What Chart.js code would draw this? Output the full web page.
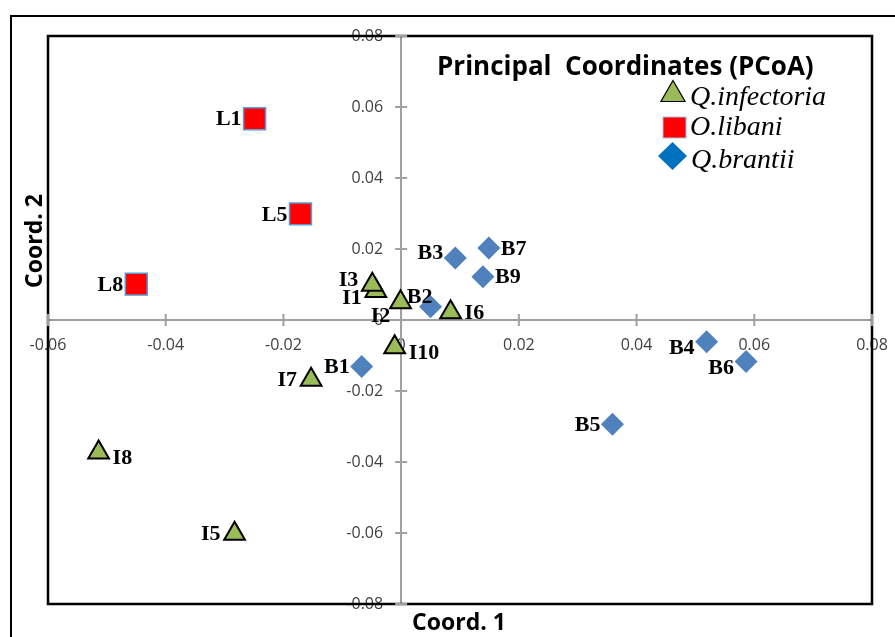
<!DOCTYPE html>
<html>
<head>
<meta charset="utf-8">
<script src="https://cdn.jsdelivr.net/npm/chart.js@4.4.1/dist/chart.umd.min.js"></script>
<style>
  html, body { margin: 0; padding: 0; background: #fff; }
  #wrap { width: 895px; height: 637px; }
</style>
</head>
<body>
<div id="wrap"><canvas id="pcoaChart"></canvas></div>
<script>
const seriesNames = ["Q.infectoria", "O.libani", "Q.brantii"];

const infectoriaIds = ["I1", "I2", "I3", "I5", "I6", "I7", "I8", "I10"];
const infectoriaX = [-0.0043, -0.0001, -0.0049, -0.0283, 0.0084, -0.0153, -0.0514, -0.0011];
const infectoriaY = [0.0082, 0.0050, 0.0099, -0.0602, 0.0022, -0.0168, -0.0373, -0.0077];
const infectoriaTag = ["left-low", "below-left", "left-high", "left", "right", "left", "right-low", "right-low"];

const libaniIds = ["L1", "L5", "L8"];
const libaniX = [-0.0249, -0.0171, -0.0450];
const libaniY = [0.0567, 0.0299, 0.0101];
const libaniTag = ["left", "left", "left"];

const brantiiIds = ["B1", "B2", "B3", "B4", "B5", "B6", "B7", "B9"];
const brantiiX = [-0.0067, 0.0050, 0.0092, 0.0519, 0.0359, 0.0586, 0.0149, 0.0139];
const brantiiY = [-0.0131, 0.0037, 0.0175, -0.0061, -0.0294, -0.0117, 0.0203, 0.0122];
const brantiiTag = ["left", "above-left", "left-high", "left-low", "left", "left-low", "right", "right"];

const xTickValues = [-0.06, -0.04, -0.02, 0, 0.02, 0.04, 0.06, 0.08];
const yTickValues = [-0.08, -0.06, -0.04, -0.02, 0, 0.02, 0.04, 0.06, 0.08];

const axisGray = "#a0a0a0";
const tickFont = "16px 'Open Sans'";
const tickColor = "#404040";

function fmt(v) {
  return Math.abs(v) < 1e-9 ? "0" : v.toFixed(2);
}

function points(xs, ys) {
  return xs.map((x, i) => ({ x: x, y: ys[i] }));
}

const ids = [infectoriaIds, libaniIds, brantiiIds];
const tags = [infectoriaTag, libaniTag, brantiiTag];
const labelGap = [14, 13, 12];

// frame, crossing tick marks, y tick labels
const decorPlugin = {
  id: "decor",
  beforeDatasetsDraw(chart) {
    const { ctx, chartArea: a, scales } = chart;
    const xs = scales.x, ys = scales.y;
    const x0 = xs.getPixelForValue(0), y0 = ys.getPixelForValue(0);
    ctx.save();

    ctx.font = tickFont;
    ctx.fillStyle = tickColor;
    ctx.textAlign = "right";
    ctx.textBaseline = "middle";
    ys.ticks.forEach(t => {
      ctx.fillText(fmt(t.value), x0 - 18, ys.getPixelForValue(t.value));
    });

    ctx.strokeStyle = "#000";
    ctx.lineWidth = 2.5;
    ctx.strokeRect(a.left, a.top, a.right - a.left, a.bottom - a.top);

    ctx.lineWidth = 2;
    ctx.beginPath();
    ctx.moveTo(11, 637);
    ctx.lineTo(11, 16);
    ctx.lineTo(895, 16);
    ctx.stroke();

    ctx.strokeStyle = axisGray;
    ctx.lineWidth = 2;
    ctx.beginPath();
    xs.ticks.forEach(t => {
      const px = xs.getPixelForValue(t.value);
      ctx.moveTo(px, y0 - 6);
      ctx.lineTo(px, y0 + 6);
    });
    ys.ticks.forEach(t => {
      const py = ys.getPixelForValue(t.value);
      ctx.moveTo(x0 - 6, py);
      ctx.lineTo(x0 + 6, py);
    });
    ctx.stroke();
    ctx.restore();
  },
  afterDatasetsDraw(chart) {
    const { ctx } = chart;
    ctx.save();

    // point labels
    ctx.font = "bold 22px 'Liberation Serif'";
    ctx.fillStyle = "#000";
    ctx.textBaseline = "middle";
    chart.data.datasets.forEach((ds, di) => {
      const meta = chart.getDatasetMeta(di);
      meta.data.forEach((el, i) => {
        const tag = tags[di][i];
        const g = labelGap[di];
        let tx = el.x, ty = el.y, align = "right";
        if (tag === "left") { tx -= g; }
        else if (tag === "left-low") { tx -= g; ty += 6; }
        else if (tag === "left-high") { tx -= g; ty -= 6; }
        else if (tag === "right") { tx += g; align = "left"; }
        else if (tag === "right-low") { tx += g; ty += 5; align = "left"; }
        else if (tag === "below-left") { tx -= 20; ty += 13; align = "center"; }
        else if (tag === "above-left") { tx -= 11; ty -= 11; align = "center"; }
        ctx.textAlign = align;
        ctx.fillText(ids[di][i], tx, ty + 1);
      });
    });

    // title
    ctx.font = "bold 26px 'Open Sans'";
    ctx.textAlign = "left";
    ctx.textBaseline = "alphabetic";
    ctx.fillText("Principal  Coordinates (PCoA)", 437, 75, 378);

    // legend
    const ds = chart.data.datasets;
    ctx.beginPath();
    ctx.moveTo(673, 80.5);
    ctx.lineTo(673 + 12.1, 101.5);
    ctx.lineTo(673 - 12.1, 101.5);
    ctx.closePath();
    ctx.fillStyle = ds[0].backgroundColor;
    ctx.fill();
    ctx.lineWidth = 1.2;
    ctx.strokeStyle = "#000";
    ctx.stroke();

    ctx.fillStyle = ds[1].backgroundColor;
    ctx.fillRect(663, 117, 23, 21);
    ctx.strokeStyle = "#9dc3e6";
    ctx.lineWidth = 1;
    ctx.strokeRect(663, 117, 23, 21);

    ctx.beginPath();
    ctx.moveTo(672.5, 142);
    ctx.lineTo(687, 156);
    ctx.lineTo(672.5, 170);
    ctx.lineTo(658, 156);
    ctx.closePath();
    ctx.fillStyle = "#0070c0";
    ctx.fill();

    ctx.fillStyle = "#000";
    ctx.font = "italic 28px 'Liberation Serif'";
    ctx.fillText(ds[0].label, 690, 105);
    ctx.fillText(ds[1].label, 690, 135);
    ctx.fillText(ds[2].label, 691, 168);

    // axis titles
    ctx.font = "bold 23px 'Open Sans'";
    ctx.textAlign = "center";
    ctx.fillText("Coord. 1", 459, 630);
    ctx.translate(42, 241);
    ctx.rotate(-Math.PI / 2);
    ctx.fillText("Coord. 2", 0, 0);
    ctx.restore();
  }
};

const ctx = document.getElementById("pcoaChart").getContext("2d");

new Chart(ctx, {
  type: "scatter",
  data: {
    datasets: [
      {
        label: seriesNames[0],
        data: points(infectoriaX, infectoriaY),
        pointStyle: "triangle",
        pointRadius: 12,
        pointHoverRadius: 12,
        backgroundColor: "#9bbb59",
        borderColor: "#000",
        borderWidth: 2
      },
      {
        label: seriesNames[1],
        data: points(libaniX, libaniY),
        pointStyle: "rect",
        pointRadius: 15.5,
        pointHoverRadius: 15.5,
        backgroundColor: "#ff0000",
        borderColor: "#5b9bd5",
        borderWidth: 1.5
      },
      {
        label: seriesNames[2],
        data: points(brantiiX, brantiiY),
        pointStyle: "rectRot",
        pointRadius: 11.5,
        pointHoverRadius: 11.5,
        backgroundColor: "#4f81bd",
        borderColor: "#4f81bd",
        borderWidth: 0
      }
    ]
  },
  options: {
    responsive: true,
    maintainAspectRatio: false,
    animation: false,
    layout: {
      padding: { left: 48, top: 36, right: 23, bottom: 33 }
    },
    plugins: {
      legend: { display: false },
      tooltip: { enabled: false }
    },
    scales: {
      x: {
        type: "linear",
        min: -0.06,
        max: 0.08,
        position: { y: 0 },
        afterBuildTicks: axis => { axis.ticks = xTickValues.map(v => ({ value: v })); },
        afterFit: axis => { axis.paddingLeft = 0; axis.paddingRight = 0; },
        ticks: {
          autoSkip: false,
          padding: 16,
          color: tickColor,
          font: { family: "'Open Sans'", size: 16 },
          callback: v => fmt(v)
        },
        grid: { drawOnChartArea: false, drawTicks: false },
        border: { color: axisGray, width: 2 }
      },
      y: {
        type: "linear",
        min: -0.08,
        max: 0.08,
        position: { x: 0 },
        afterBuildTicks: axis => { axis.ticks = yTickValues.map(v => ({ value: v })); },
        afterFit: axis => { axis.paddingTop = 0; axis.paddingBottom = 0; },
        ticks: { display: false },
        grid: { drawOnChartArea: false, drawTicks: false },
        border: { color: axisGray, width: 2 }
      }
    }
  },
  plugins: [decorPlugin]
});
</script>
</body>
</html>
